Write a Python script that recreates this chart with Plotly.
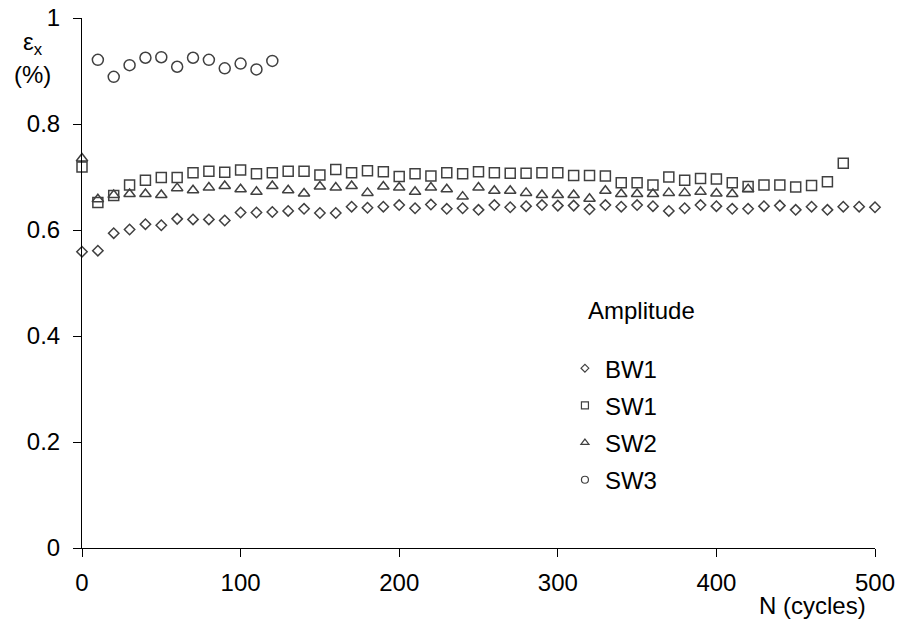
import plotly.graph_objects as go

# Cycle numbers
N_BW1 = list(range(0, 501, 10))
N_SW1 = list(range(0, 481, 10))
N_SW2 = list(range(0, 421, 10))
N_SW3 = list(range(10, 121, 10))

BW1 = [0.559, 0.561, 0.594, 0.601, 0.611, 0.609, 0.621, 0.620, 0.620, 0.618,
       0.633, 0.633, 0.634, 0.636, 0.640, 0.632, 0.632, 0.644, 0.642, 0.644,
       0.647, 0.641, 0.648, 0.640, 0.641, 0.638, 0.647, 0.643, 0.645, 0.647,
       0.646, 0.646, 0.639, 0.647, 0.644, 0.647, 0.645, 0.636, 0.641, 0.647,
       0.645, 0.640, 0.640, 0.645, 0.646, 0.638, 0.644, 0.638, 0.644, 0.644,
       0.643]

SW1 = [0.719, 0.652, 0.665, 0.685, 0.694, 0.699, 0.699, 0.708, 0.711, 0.709,
       0.713, 0.706, 0.708, 0.711, 0.711, 0.704, 0.714, 0.708, 0.712, 0.710,
       0.701, 0.706, 0.702, 0.708, 0.706, 0.710, 0.708, 0.707, 0.707, 0.708,
       0.708, 0.703, 0.703, 0.702, 0.689, 0.689, 0.685, 0.700, 0.694, 0.697,
       0.696, 0.689, 0.682, 0.685, 0.685, 0.681, 0.684, 0.691, 0.726]

SW2 = [0.735, 0.658, 0.666, 0.668, 0.668, 0.666, 0.679, 0.675, 0.680, 0.683,
       0.677, 0.672, 0.683, 0.675, 0.669, 0.682, 0.680, 0.683, 0.670, 0.682,
       0.680, 0.672, 0.680, 0.677, 0.663, 0.680, 0.674, 0.674, 0.670, 0.666,
       0.666, 0.666, 0.659, 0.674, 0.668, 0.668, 0.668, 0.670, 0.670, 0.672,
       0.669, 0.668, 0.677]

SW3 = [0.921, 0.889, 0.911, 0.925, 0.926, 0.908, 0.925, 0.921, 0.905, 0.914,
       0.903, 0.919]

series = [
    ("SW3", N_SW3, SW3, "circle-open", 11, 7),
    ("SW2", N_SW2, SW2, "triangle-up-open", 10, 7),
    ("SW1", N_SW1, SW1, "square-open", 10, 7),
    ("BW1", N_BW1, BW1, "diamond-open", 8, 6),
]

LINE = "#404040"
FONT = "Liberation Sans, Arial, sans-serif"
FS = 24

fig = go.Figure()
for name, xs, ys, sym, size, _ in series:
    fig.add_trace(go.Scatter(
        x=xs, y=ys, mode="markers", name=name, showlegend=False,
        cliponaxis=False,
        marker=dict(symbol=sym, size=size, color=LINE, line=dict(color=LINE, width=1.5)),
    ))

# legend entries (smaller symbols, as in the reference)
for name, xs, ys, sym, size, lsize in reversed(series):
    fig.add_trace(go.Scatter(
        x=[None], y=[None], mode="markers", name=name, legendgroup=name,
        marker=dict(symbol=sym, size=lsize, color=LINE, line=dict(color=LINE, width=1.2)),
    ))

fig.update_layout(
    width=901, height=622,
    margin=dict(l=82, r=26, t=18, b=74),
    paper_bgcolor="white", plot_bgcolor="white",
    font=dict(family=FONT, size=FS, color="black"),
    showlegend=True,
    legend=dict(x=0.609, y=0.381, xanchor="left", yanchor="top",
                bgcolor="rgba(0,0,0,0)", tracegroupgap=3,
                font=dict(size=FS), itemsizing="trace"),
    xaxis=dict(range=[0, 500], tickvals=[0, 100, 200, 300, 400, 500],
               showline=True, linecolor="black", linewidth=1,
               ticks="outside", ticklen=8, tickcolor="black",
               showgrid=False, zeroline=False, ticklabelstandoff=5,
               automargin=False),
    yaxis=dict(range=[0, 1], tickvals=[0, 0.2, 0.4, 0.6, 0.8, 1],
               ticktext=["0", "0.2", "0.4", "0.6", "0.8", "1"],
               showline=True, linecolor="black", linewidth=1,
               ticks="outside", ticklen=8, tickcolor="black",
               showgrid=False, zeroline=False, ticklabelstandoff=8,
               automargin=False),
    annotations=[
        dict(text="ε<sub>x</sub>", x=-0.062, y=0.951, xref="paper", yref="paper",
             showarrow=False, xanchor="center", yanchor="middle", font=dict(size=FS)),
        dict(text="(%)", x=-0.062, y=0.8925, xref="paper", yref="paper",
             showarrow=False, xanchor="center", yanchor="middle", font=dict(size=FS)),
        dict(text="N (cycles)", x=0.991, y=-0.109, xref="paper", yref="paper",
             showarrow=False, xanchor="right", yanchor="middle", font=dict(size=FS)),
        dict(text="Amplitude", x=0.636, y=0.449, xref="paper", yref="paper",
             showarrow=False, xanchor="left", yanchor="middle", font=dict(size=FS)),
    ],
)

fig.write_html("out.html")
